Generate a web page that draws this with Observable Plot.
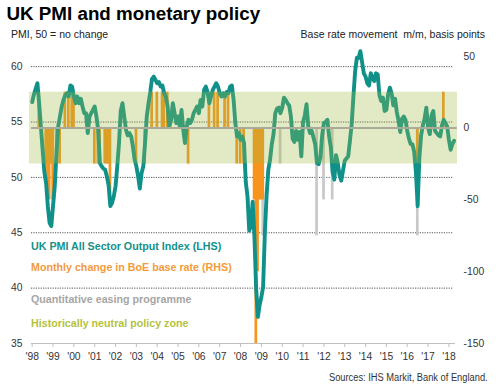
<!DOCTYPE html>
<html>
<head>
<meta charset="utf-8">
<script src="https://cdn.jsdelivr.net/npm/d3@7"></script>
<script src="https://cdn.jsdelivr.net/npm/@observablehq/plot@0.6"></script>
<style>
  html, body { margin: 0; padding: 0; background: #fff; }
  body { width: 496px; height: 390px; position: relative; overflow: hidden;
         font-family: "Liberation Sans", Arial, sans-serif; }
  .t { position: absolute; line-height: 1; white-space: pre; }
  #title { left: 6.5px; top: 4.8px; font-size: 18.8px; font-weight: bold; color: #000; }
  #subL { left: 11px; top: 29.4px; font-size: 10.5px; color: #222; }
  #subR { right: 11px; top: 29.4px; font-size: 10.5px; color: #222; }
  .leg { left: 31px; font-size: 10.7px; font-weight: bold; }
  #caption { right: 8px; top: 372.5px; font-size: 10px; color: #333; transform: scaleX(0.93); transform-origin: right center; }
  #chart { position: absolute; left: 0; top: 42px; }
</style>
</head>
<body>
<div id="chart"></div>
<div class="t" id="title">UK PMI and monetary policy</div>
<div class="t" id="subL">PMI, 50 = no change</div>
<div class="t" id="subR">Base rate movement  m/m, basis points</div>
<div class="t leg" style="top:241.2px;color:#13918a">UK PMI All Sector Output Index (LHS)</div>
<div class="t leg" style="top:262.4px;color:#f39b3c">Monthly change in BoE base rate (RHS)</div>
<div class="t leg" style="top:293.6px;color:#a6a6a6">Quantitative easing programme</div>
<div class="t leg" style="top:318px;color:#b5c23c">Historically neutral policy zone</div>
<div class="t" id="caption">Sources: IHS Markit, Bank of England.</div>
<script>
// ---------------- data ----------------
const pmiStart = 1998; // first value = Jan 1998, monthly
const pmiValues = [
  // 1998
  56.8, 57.5, 58.0, 58.5, 56.7, 54.6, 52.5, 50.5, 49.5, 47.4, 45.9, 45.6,
  // 1999
  47.4, 49.2, 52.2, 54.6, 55.5, 56.4, 57.0, 57.4, 57.6, 57.3, 58.3, 58.2,
  // 2000
  57.3, 56.7, 57.3, 56.7, 57.1, 56.4, 55.8, 55.8, 54.0, 55.5, 55.8, 56.1,
  // 2001
  56.4, 55.5, 54.3, 51.3, 51.0, 50.8, 50.7, 50.1, 49.3, 47.4, 47.7, 48.3,
  // 2002
  49.2, 51.0, 53.1, 56.0, 56.7, 55.5, 54.3, 53.8, 54.0, 53.7, 52.8, 51.6,
  // 2003
  51.0, 50.1, 49.0, 50.4, 51.0, 53.1, 55.5, 56.7, 57.7, 58.9, 59.1, 58.8,
  // 2004
  58.5, 58.6, 58.2, 58.3, 57.6, 57.3, 56.4, 54.6, 55.2, 56.7, 55.8, 54.9,
  // 2005
  55.5, 54.6, 56.1, 54.3, 53.1, 54.6, 55.2, 54.9, 55.2, 55.8, 56.1, 56.4,
  // 2006
  55.8, 57.0, 56.4, 57.9, 58.2, 57.7, 56.7, 57.3, 57.9, 58.2, 58.5, 58.2,
  // 2007
  57.6, 57.3, 57.6, 57.3, 57.7, 57.6, 58.2, 58.3, 57.0, 54.9, 53.7, 54.0,
  // 2008
  53.4, 53.7, 53.1, 49.6, 48.3, 45.2, 45.6, 47.8, 44.6, 39.9, 37.4, 38.5,
  // 2009
  39.2, 40.1, 45.0, 48.4, 50.7, 51.6, 53.0, 53.9, 55.8, 56.2, 56.3, 55.8,
  // 2010
  56.3, 57.2, 57.0, 56.7, 56.5, 55.5, 53.5, 53.2, 54.2, 53.4, 54.1, 51.9,
  // 2011
  55.0, 55.6, 56.6, 54.6, 54.0, 54.2, 53.6, 53.0, 51.3, 51.2, 51.8, 53.8,
  // 2012
  54.9, 55.0, 55.2, 53.7, 52.7, 50.5, 49.8, 52.0, 51.3, 50.2, 49.7, 50.6,
  // 2013
  51.5, 51.7, 51.9, 53.3, 54.8, 57.3, 59.6, 60.8, 60.8, 61.4, 60.4, 59.4,
  // 2014
  59.1, 58.5, 58.3, 59.4, 59.0, 58.7, 59.4, 59.3, 57.4, 56.9, 57.2, 56.0,
  // 2015
  56.1, 57.5, 58.1, 57.6, 56.5, 57.1, 55.9, 55.1, 54.1, 55.3, 55.5, 55.2,
  // 2016
  54.2, 53.5, 53.0, 53.0, 52.3, 50.5, 47.4, 51.8, 53.8, 54.7, 55.3, 56.3,
  // 2017
  54.5, 53.9, 55.6, 56.0, 54.2, 54.0, 53.8, 53.7, 54.7, 55.2, 54.9, 54.6,
  // 2018
  53.4, 52.5, 53.0, 53.3
];

const rateDates = [
  "1998-06","1998-10","1998-11","1998-12","1999-01","1999-02","1999-04","1999-06",
  "1999-09","1999-11","2000-01","2000-02",
  "2001-02","2001-04","2001-05","2001-08","2001-09","2001-10","2001-11",
  "2003-02","2003-07","2003-11","2004-02","2004-05","2004-06","2004-08",
  "2005-08","2006-08","2006-11","2007-01","2007-05","2007-07",
  "2007-12","2008-02","2008-04","2008-10","2008-11","2008-12",
  "2009-01","2009-02","2009-03","2016-08","2017-11"
];
const rateChanges = [
  25,-25,-50,-50,-25,-50,-25,-25,
  25,25,25,25,
  -25,-25,-25,-25,-25,-25,-50,
  -25,-25,25,25,25,25,25,
  -25,25,25,25,25,25,
  -25,-25,-25,-50,-150,-100,
  -50,-50,-50,-25,25
];

const qeDates = ["2009-03","2010-01","2011-10","2012-02","2012-07","2016-08"];
const qeChanges = [-75,-25,-75,-50,-50,-75];

const yearTicks = d3.range(1998, 2019);
const leftTicks = [35, 40, 45, 50, 55, 60];
const gridTicks = [40, 45, 50, 55, 60];
const rightTicks = [50, 0, -50, -100, -150];
const neutralZone = [-25, 25];

// ---------------- helpers ----------------
const bpToPmi = b => 35 + (b + 150) * (19.45 / 150);
const monthToT = s => { const [y, m] = s.split("-").map(Number); return y + (m - 1) / 12; };
const mo = 1 / 12;
const t0 = pmiStart - 1.55 * mo, t1 = pmiStart + 244.95 * mo;

const pmi = pmiValues.map((v, i) => ({t: pmiStart + i * mo, v}));
const rates = rateDates.map((d, i) => ({t: monthToT(d), v: rateChanges[i]}));
const qe = qeDates.map((d, i) => ({t: monthToT(d), v: qeChanges[i]}));

const chart = Plot.plot({
  width: 496, height: 324,
  marginLeft: 29, marginRight: 39, marginTop: 2, marginBottom: 23,
  x: {domain: [t0, t1], label: null},
  y: {domain: [35, 62], label: null},
  style: {fontFamily: "'Liberation Sans', Arial, sans-serif", fontSize: "10.3px", color: "#333", background: "transparent", overflow: "visible"},
  marks: [
    Plot.ruleY(gridTicks, {y: d => d, x1: () => pmiStart - 0.4 * mo, x2: () => pmiStart + 242.7 * mo,
      stroke: "#555", strokeWidth: 1, strokeDasharray: "1.2,1.2"}),
    Plot.rect(qe, {x1: d => d.t - 1.7 * mo, x2: d => d.t - 0.15 * mo, y1: () => bpToPmi(0), y2: d => bpToPmi(d.v), fill: "#c8c8c8"}),
    Plot.rect(rates, {x1: d => d.t - 1.7 * mo, x2: d => d.t - 0.15 * mo, y1: () => bpToPmi(0), y2: d => bpToPmi(d.v), fill: "#f7941d"}),
    Plot.line(pmi, {x: "t", y: "v", stroke: "#0f918a", strokeWidth: 3.9, strokeLinejoin: "round", strokeLinecap: "round"}),
    Plot.rect([neutralZone], {x1: () => t0, x2: () => t1, y1: d => bpToPmi(d[0]), y2: d => bpToPmi(d[1]),
      fill: "#9fb840", fillOpacity: 0.3}),
    Plot.ruleY([0], {y: d => bpToPmi(d), x1: () => pmiStart - 0.4 * mo, x2: () => pmiStart + 244.8 * mo,
      stroke: "#aaa99a", strokeWidth: 2}),
    Plot.ruleY([35], {x1: () => pmiStart - 0.4 * mo, x2: () => pmiStart + 243.8 * mo, stroke: "#bfbfbf", strokeWidth: 1}),
    Plot.axisX({ticks: yearTicks, tickFormat: d => "'" + String(d).slice(2), tickSize: 4, tickPadding: 5,
      stroke: "#bfbfbf", label: null}),
    Plot.axisY({ticks: leftTicks, tickSize: 0, tickPadding: 7, anchor: "left", label: null}),
    Plot.text(rightTicks, {y: d => bpToPmi(d), text: d => String(d), frameAnchor: "right",
      textAnchor: "start", dx: 6, fill: "#333"})
  ]
});
document.getElementById("chart").appendChild(chart);
</script>
</body>
</html>
